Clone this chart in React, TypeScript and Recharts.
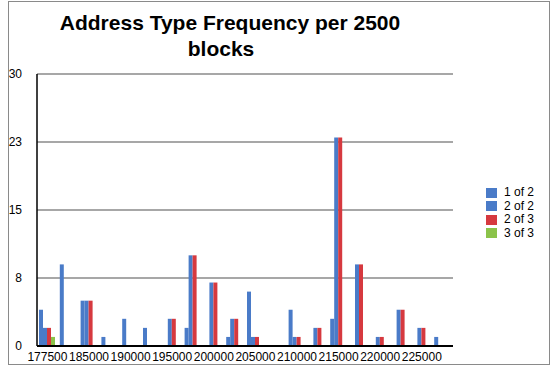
import React from 'react';
import { BarChart, Bar, XAxis, YAxis, CartesianGrid } from 'recharts';

const categories = [
  '177500', '182500', '185000', '187500', '190000', '192500', '195000', '197500', '200000', '202500',
  '205000', '207500', '210000', '212500', '215000', '217500', '220000', '222500', '225000', '227500',
];
const oneOfTwo = [4, 9, 5, 1, 3, 2, 0, 2, 0, 1, 6, 0, 4, 0, 3, 0, 0, 0, 0, 1];
const twoOfTwo = [2, 0, 5, 0, 0, 0, 3, 10, 7, 3, 1, 0, 1, 2, 23, 9, 1, 4, 2, 0];
const twoOfThree = [2, 0, 5, 0, 0, 0, 3, 10, 7, 3, 1, 0, 1, 2, 23, 9, 1, 4, 2, 0];
const threeOfThree = [1, 0, 0, 0, 0, 0, 0, 0, 0, 0, 0, 0, 0, 0, 0, 0, 0, 0, 0, 0];
const yTicks = [0, 7.5, 15, 22.5, 30];

const seriesNames = ['1 of 2', '2 of 2', '2 of 3', '3 of 3'];
const seriesColors = ['#4a7bc8', '#4a7bc8', '#d6393f', '#8bc34a'];
const seriesKeys = ['a', 'b', 'c', 'd'];

const data = categories.map((c, i) => ({
  cat: c,
  a: oneOfTwo[i],
  b: twoOfTwo[i],
  c: twoOfThree[i],
  d: threeOfThree[i],
}));

const FONT = '"Liberation Sans", Arial, Helvetica, sans-serif';

export default function App() {
  return (
    <div style={{ position: 'absolute', left: 0, top: 0, width: 557, height: 377, background: '#fff', fontFamily: FONT }}>
      <div style={{ position: 'absolute', left: 8, top: 1, width: 540, height: 362, border: '1px solid #8a8a8a' }} />
      <div style={{ position: 'absolute', left: 30, width: 400, top: 10, textAlign: 'center', fontWeight: 'bold', fontSize: 21, lineHeight: '26px', color: '#000' }}>
        Address Type Frequency per 2500
      </div>
      <div style={{ position: 'absolute', left: 21, width: 400, top: 36, textAlign: 'center', fontWeight: 'bold', fontSize: 21, lineHeight: '26px', color: '#000' }}>
        blocks
      </div>
      <div style={{ position: 'absolute', left: 0, top: 0 }}>
        <BarChart
          width={557}
          height={377}
          data={data}
          margin={{ top: 74, right: 104, bottom: 11, left: 0 }}
          barGap={0}
          barSize={4}
        >
          <CartesianGrid vertical={false} stroke="#8a8a8a" strokeWidth={1.5} />
          <XAxis
            dataKey="cat"
            interval={1}
            tickLine={false}
            tickSize={0}
            tickMargin={6}
            height={20}
            axisLine={{ stroke: '#000', strokeWidth: 2 }}
            tick={{ fill: '#000', fontSize: 12, fontFamily: FONT }}
          />
          <YAxis
            domain={[0, 30]}
            ticks={yTicks}
            tickFormatter={(v: number) => String(Math.round(v))}
            width={37}
            tickLine={false}
            tickSize={0}
            tickMargin={15}
            axisLine={{ stroke: '#000', strokeWidth: 1.5 }}
            tick={{ fill: '#000', fontSize: 12, fontFamily: FONT }}
            allowDecimals
          />
          {seriesKeys.map((k, i) => (
            <Bar key={k} dataKey={k} name={seriesNames[i]} fill={seriesColors[i]} isAnimationActive={false} />
          ))}
        </BarChart>
      </div>
      <div style={{ position: 'absolute', left: 486, top: 186, fontSize: 12, lineHeight: '13.5px', color: '#000' }}>
        {seriesNames.map((n, i) => (
          <div key={n} style={{ display: 'flex', alignItems: 'center', height: 13.5 }}>
            <span style={{ display: 'inline-block', width: 11, height: 10, background: seriesColors[i], marginRight: 7 }} />
            <span>{n}</span>
          </div>
        ))}
      </div>
    </div>
  );
}
